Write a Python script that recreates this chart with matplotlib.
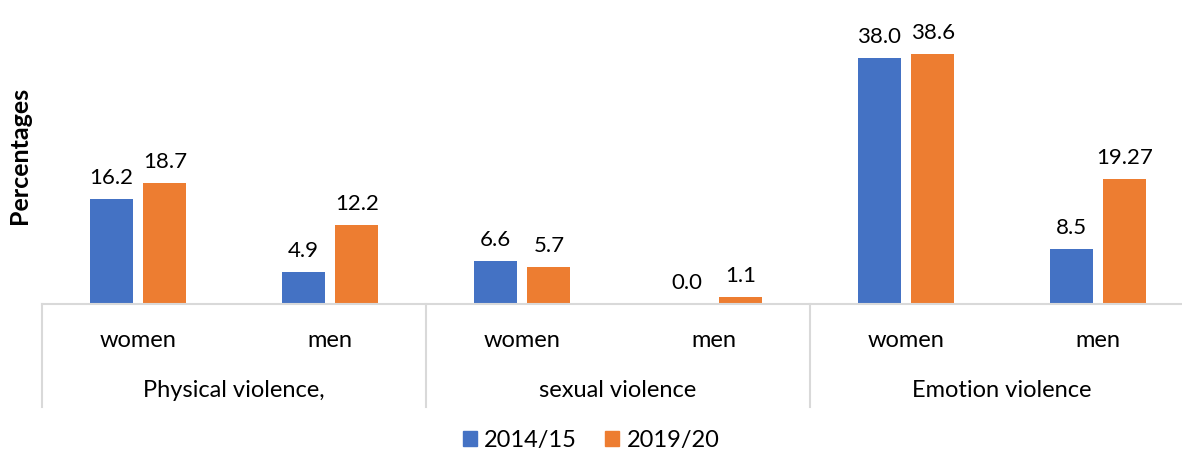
import matplotlib
matplotlib.use("Agg")
import matplotlib.pyplot as plt
from matplotlib.lines import Line2D
from matplotlib.patches import Patch

plt.rcParams['font.family'] = ['Lato', 'DejaVu Sans']

#data
groups = ["Physical violence,", "sexual violence", "Emotion violence"]
subgroups = ["women", "men"]
series = ["2014/15", "2019/20"]
values_2014 = [16.2, 4.9, 6.6, 0.0, 38.0, 8.5]
values_2019 = [18.7, 12.2, 5.7, 1.1, 38.6, 19.27]
labels_2014 = ["16.2", "4.9", "6.6", "0.0", "38.0", "8.5"]
labels_2019 = ["18.7", "12.2", "5.7", "1.1", "38.6", "19.27"]

BLUE = "#4472C4"
ORANGE = "#ED7D31"
GRID = "#D9D9D9"

W, H = 1182, 455
fig = plt.figure(figsize=(W / 100, H / 100), dpi=100)
ax = fig.add_axes([42 / W, 151 / H, 1152 / W, 298 / H])

x = list(range(len(values_2014)))
bw = 0.224
off = 0.14
ax.bar([i - off for i in x], values_2014, width=bw, color=BLUE, label=series[0])
ax.bar([i + off for i in x], values_2019, width=bw, color=ORANGE, label=series[1])

#value labels above bars
for i in x:
    ax.annotate(labels_2014[i], (i - off, values_2014[i]), xytext=(0, 8),
                textcoords="offset points", ha="center", va="bottom", fontsize=16)
    ax.annotate(labels_2019[i], (i + off, values_2019[i]), xytext=(0, 8),
                textcoords="offset points", ha="center", va="bottom", fontsize=16)

ax.set_xlim(-0.5, len(x) - 0.5)
ax.set_ylim(0, 46)
ax.set_yticks([])
ax.set_xticks([])
for s in ["top", "right", "left"]:
    ax.spines[s].set_visible(False)
ax.spines["bottom"].set_color(GRID)
ax.spines["bottom"].set_linewidth(1.5)

ax.set_ylabel("Percentages", fontsize=18, fontweight="bold", labelpad=8)

#two level category axis
tr = ax.get_xaxis_transform()
for i in x:
    ax.text(i, -0.121, subgroups[i % 2], transform=tr, ha="center", va="center", fontsize=17)
for g, name in enumerate(groups):
    ax.text(2 * g + 0.5, -0.289, name, transform=tr, ha="center", va="center", fontsize=17)
for b in [-0.5, 1.5, 3.5, 5.5]:
    ax.add_line(Line2D([b, b], [0, -0.346], transform=tr, color=GRID,
                       linewidth=1.5, clip_on=False))

handles = [Patch(color=BLUE, label=series[0]), Patch(color=ORANGE, label=series[1])]
fig.legend(handles=handles, loc="center", bbox_to_anchor=(0.5, 15 / H), ncol=2,
           frameon=False, fontsize=17, handlelength=0.6, handleheight=0.6,
           columnspacing=1.2, handletextpad=0.3)

fig.savefig("out.png", dpi=100)
